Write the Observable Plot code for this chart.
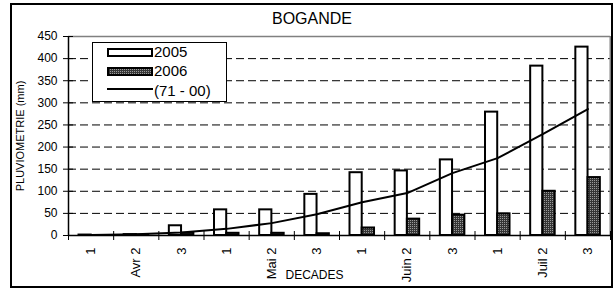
<!DOCTYPE html>
<html>
<head>
<meta charset="utf-8">
<script src="https://cdn.jsdelivr.net/npm/d3@7"></script>
<script src="https://cdn.jsdelivr.net/npm/@observablehq/plot@0.6"></script>
<style>
  body { margin: 0; background: #fff; }
  #wrap { position: relative; width: 614px; height: 289px; font-family: "Liberation Sans", Arial, sans-serif; color: #000; }
  #wrap svg { position: absolute; left: 0; top: 0; }
  #frame { position: absolute; left: 10px; top: 3px; width: 603px; height: 285px; border: 2px solid #000; box-sizing: border-box; pointer-events: none; }
  #legend { position: absolute; left: 92px; top: 42px; width: 135px; height: 60px; box-sizing: border-box; border: 1px solid #000; background: #fff; }
  #legend .sw { position: absolute; left: 14px; width: 46px; height: 9px; box-sizing: border-box; border: 2px solid #000; }
  #legend .ln { position: absolute; left: 14px; width: 46px; height: 2px; background: #000; }
  #legend .tx { position: absolute; left: 61px; height: 16px; line-height: 16px; font-size: 15px; white-space: nowrap; }
</style>
</head>
<body>
<div id="wrap"></div>
<script>
// ---- data ----
const decades = ["1", "Avr 2", "3", "1", "Mai 2", "3", "1", "Juin 2", "3", "1", "Juil 2", "3"];
const rain2005 = [1, 2, 22, 58, 58, 93, 142, 146, 171, 279, 383, 426];
const rain2006 = [0, 1, 5, 5, 5, 4, 17, 37, 46, 49, 100, 131];
const normal7100 = [1, 3, 7, 15, 28, 48, 75, 96, 141, 175, 229, 286];
const yTicks = [0, 50, 100, 150, 200, 250, 300, 350, 400, 450];
const gridValues = [50, 100, 150, 200, 250, 300, 350, 400];
const seriesNames = ["2005", "2006", "(71 - 00)"];

const rows = decades.map((label, i) => ({
  i, label, v2005: rain2005[i], v2006: rain2006[i], normal: normal7100[i]
}));

// layout helpers (fractions of a category)
const catPx = 45.14;
const a1 = 10.5 / catPx, a2 = 22.7 / catPx, b2 = 35 / catPx;

const chart = Plot.plot({
  width: 614,
  height: 289,
  marginLeft: 68,
  marginRight: 4,
  marginTop: 36,
  marginBottom: 54,
  style: { fontFamily: "Liberation Sans, Arial, sans-serif", fontSize: "12px", color: "#000", background: "transparent" },
  x: { type: "linear", domain: [0, 12], ticks: d3.range(13), tickFormat: () => "", tickSize: 5, label: null },
  y: { domain: [0, 450], ticks: yTicks, tickSize: 5, tickPadding: 6, label: null, tickFormat: d => String(d) },
  marks: [
    Plot.ruleY(gridValues, { stroke: "#000", strokeDasharray: "8,4", strokeWidth: 1 }),
    Plot.ruleY([450], { stroke: "#808080", strokeWidth: 1.5 }),
    Plot.ruleX([12], { stroke: "#808080", strokeWidth: 2 }),
    Plot.rectY(rows, { x1: d => d.i + a1, x2: d => d.i + a2, y1: 0, y2: "v2005", fill: "#fff", stroke: "#000", strokeWidth: 2 }),
    Plot.rectY(rows, { x1: d => d.i + a2, x2: d => d.i + b2, y1: 0, y2: "v2006", fill: "url(#pat2006)", stroke: "#000", strokeWidth: 2 }),
    Plot.line(rows, { x: d => d.i + 0.5, y: "normal", stroke: "#000", strokeWidth: 2 }),
    Plot.ruleX([0], { stroke: "#000", strokeWidth: 1.5 }),
    Plot.ruleY([0], { stroke: "#000", strokeWidth: 1.5 }),
    Plot.ruleY(yTicks, { x1: 0, x2: 5 / catPx, stroke: "#000" }),
    Plot.ruleX(d3.range(13), { y1: 0, y2: 9, stroke: "#000" }),
    Plot.text(rows, { x: d => d.i + 0.5, text: "label", frameAnchor: "bottom", dy: 12, rotate: -90, textAnchor: "end", lineAnchor: "middle", fontSize: 13 }),
    Plot.text(["BOGANDE"], { text: d => d, frameAnchor: "top", dx: -27.5, dy: -17.7, textAnchor: "middle", lineAnchor: "middle", fontSize: 16 }),
    Plot.text(["PLUVIOMETRIE (mm)"], { text: d => d, frameAnchor: "left", dx: -48, rotate: -90, textAnchor: "middle", lineAnchor: "middle", fontSize: 11 }),
    Plot.text(["DECADES"], { text: d => d, frameAnchor: "bottom", dx: -25, dy: 39.5, textAnchor: "middle", lineAnchor: "middle", fontSize: 12 })
  ]
});

const svg = d3.select(chart);
const pat = svg.insert("defs", ":first-child").append("pattern")
  .attr("id", "pat2006").attr("width", 2).attr("height", 2).attr("patternUnits", "userSpaceOnUse");
pat.append("rect").attr("width", 2).attr("height", 2).attr("fill", "#353535");
pat.append("rect").attr("width", 1).attr("height", 1).attr("fill", "#9a9a9a");

const wrap = document.getElementById("wrap");
wrap.appendChild(chart);

// legend
const legend = document.createElement("div");
legend.id = "legend";
legend.innerHTML = `
  <div class="sw" style="top:5px;background:#fff"></div>
  <div class="tx" style="top:1px">${seriesNames[0]}</div>
  <div class="sw" style="top:24px;background:repeating-conic-gradient(#9a9a9a 0 25%, #353535 0 100%) 0 0/2px 2px"></div>
  <div class="tx" style="top:20px">${seriesNames[1]}</div>
  <div class="ln" style="top:45px"></div>
  <div class="tx" style="top:40px">${seriesNames[2]}</div>`;
wrap.appendChild(legend);

const frame = document.createElement("div");
frame.id = "frame";
wrap.appendChild(frame);
</script>
</body>
</html>
